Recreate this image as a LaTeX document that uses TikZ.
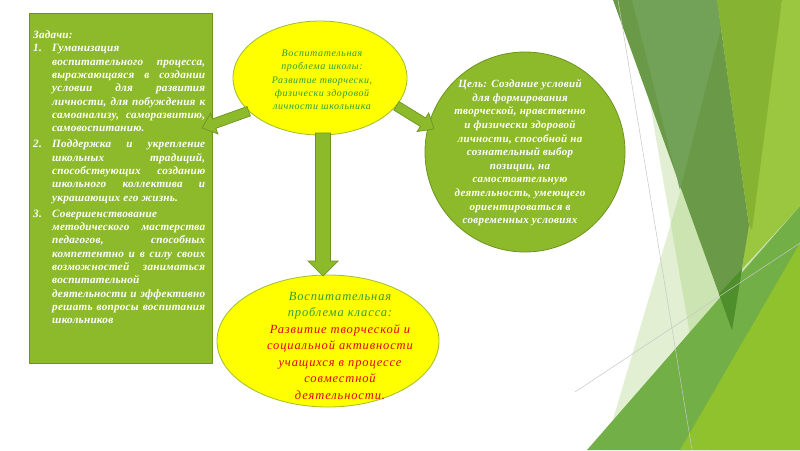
\documentclass[tikz,border=0pt]{standalone}
\usepackage{fontspec}
\setmainfont{Liberation Serif}
\newfontfamily\lsTask[LetterSpace=2]{Liberation Serif}
\newfontfamily\lsSchool[LetterSpace=6]{Liberation Serif}
\newfontfamily\lsGoal[LetterSpace=3]{Liberation Serif}
\newfontfamily\lsClass[LetterSpace=7]{Liberation Serif}
\usetikzlibrary{calc,shapes.geometric}
\definecolor{boxgreen}{HTML}{8DBA2B}
\definecolor{boxedge}{HTML}{6E9420}
\definecolor{yel}{HTML}{FFFF00}
\definecolor{yeledge}{HTML}{9CBF2E}
\definecolor{tgreen}{HTML}{2E9E3A}
\definecolor{tred}{HTML}{E2001A}
\definecolor{fpale}{HTML}{8CC152}
\definecolor{fmed}{HTML}{73AF47}
\definecolor{flight}{HTML}{9AC640}
\definecolor{fdark}{HTML}{6A9A48}
\definecolor{fdarkl}{HTML}{72A158}
\definecolor{fstrip}{HTML}{87B333}
\definecolor{fdeep}{HTML}{4E8E2B}
\definecolor{fbright}{HTML}{8FC22C}
\tikzset{
  panel/.style={fill=boxgreen, draw=boxedge, line width=0.8pt, inner sep=0pt},
  bubble/.style={ellipse, fill=yel, draw=yeledge, line width=0.8pt, inner sep=0pt},
  goalshape/.style={circle, fill=boxgreen, draw=boxedge, line width=0.8pt, inner sep=0pt},
  arrowstyle/.style={fill=boxgreen, draw=boxedge, line width=0.7pt, line join=miter},
  paletri/.style={fill=fpale, fill opacity=0.25, draw=none},
  guide/.style={draw=black!22, line width=0.5pt},
  ytext/.style={align=center, inner sep=0pt, font=\lsSchool\fontsize{10}{13.3}\selectfont\itshape, text=tgreen},
  gtext/.style={align=center, inner sep=0pt, font=\lsGoal\fontsize{11}{13.6}\selectfont\bfseries\itshape, text=white},
  ctext/.style={align=center, inner sep=0pt, font=\lsClass\fontsize{12.5}{16.5}\selectfont\itshape},
}
\newcommand\tjust[2]{\hbox to 172pt{\hbox to 19pt{#1\hfil}#2}}
\newcommand\tleft[2]{\hbox to 172pt{\hbox to 19pt{#1\hfil}#2\hfil}}
\newcommand\blockarrow[5]{%
  \coordinate (bah) at ($(#2)!#5!(#1)$);
  \filldraw[arrowstyle] ($(#1)!#3!90:(#2)$) -- ($(bah)!#3!-90:(#1)$) -- ($(bah)!#4!-90:(#1)$) -- (#2)
    -- ($(bah)!#4!90:(#1)$) -- ($(bah)!#3!90:(#1)$) -- ($(#1)!#3!-90:(#2)$) -- cycle;}
\begin{document}
\begin{tikzpicture}[x=1pt,y=-1pt]
\useasboundingbox (0,0) rectangle (800,450);
\fill[white] (0,0) rectangle (800,450);
% background facets
\fill[paletri] (604,450) -- (737,0) -- (800,0) -- (800,450) -- cycle;
\fill[paletri] (632,0) -- (800,0) -- (800,450) -- (710,450) -- cycle;
\fill[fmed] (587,450) -- (800,206) -- (800,450) -- cycle;
\fill[flight] (782,0) -- (800,0) -- (800,206) -- (742,269) -- cycle;
\fill[fdark] (613,0) -- (717,0) -- (749,225) -- (732,330) -- cycle;
\fill[fdarkl] (632,0) -- (717,0) -- (721,28) -- (680,190) -- cycle;
\fill[fstrip] (717,0) -- (782,0) -- (752,230) -- (749,225) -- cycle;
\fill[fdeep] (719,294) -- (742,269) -- (732,330) -- cycle;
\fill[fbright] (680,450) -- (800,243) -- (800,450) -- cycle;
\draw[guide] (618,0) -- (692,450);
\draw[guide] (575,392) -- (800,243);

% tasks panel
\node[panel, anchor=north west, minimum width=183pt, minimum height=350pt] (tasks) at (29,13) {};
\node[anchor=base west, inner sep=0pt, text=white] (taskstext) at (33,38.5) {\parbox[t]{172pt}{%
\lsTask\fontsize{11.2}{13.35}\selectfont\bfseries\itshape
\hbox{Задачи:}
\tleft{1.}{Гуманизация}
\tjust{}{воспитательного процесса,}
\tjust{}{выражающаяся в создании}
\tjust{}{условии для развития}
\tjust{}{личности, для побуждения к}
\tjust{}{самоанализу, саморазвитию,}
\tleft{}{самовоспитанию.}
\vskip2.5pt
\tjust{2.}{Поддержка и укрепление}
\tjust{}{школьных традиций,}
\tjust{}{способствующих созданию}
\tjust{}{школьного коллектива и}
\tleft{}{украшающих его жизнь.}
\vskip2.5pt
\tleft{3.}{Совершенствование}
\tjust{}{методического мастерства}
\tjust{}{педагогов, способных}
\tjust{}{компетентно и в силу своих}
\tjust{}{возможностей заниматься}
\tleft{}{воспитательной}
\tjust{}{деятельности и эффективно}
\tjust{}{решать вопросы воспитания}
\tleft{}{школьников}}};

% goal circle
\node[goalshape, minimum size=200pt] (goal) at (525,152) {};
\node[gtext] (goaltext) at (520,153) {Цель: Создание условий\\для формирования\\творческой, нравственно\\и физически здоровой\\личности, способной на\\сознательный выбор\\позиции, на\\самостоятельную\\деятельность, умеющего\\ориентироваться в\\современных условиях};

% school problem
\node[bubble, minimum width=174pt, minimum height=114pt] (school) at (320,78) {};
\node[ytext] (schooltext) at (322,80) {Воспитательная\\проблема школы:\\Развитие творчески,\\физически здоровой\\личности школьника};

% class problem
\node[bubble, minimum width=222pt, minimum height=132pt] (class) at (328,341) {};
\node[ctext] (classtext) at (340,345.5) {\textcolor{tgreen}{Воспитательная}\\\textcolor{tgreen}{проблема класса:}\\\textcolor{tred}{Развитие творческой и}\\\textcolor{tred}{социальной активности}\\\textcolor{tred}{учащихся в процессе}\\\textcolor{tred}{совместной}\\\textcolor{tred}{деятельности.}};

% arrows
\coordinate (lstart) at (school.205);
\coordinate (ltip) at (202,128);
\coordinate (rstart) at (school.340);
\coordinate (rtip) at (434,129);
\coordinate (dstart) at (323,133);
\coordinate (dtip) at (323,276);
\blockarrow{lstart}{ltip}{5pt}{11pt}{13pt}
\blockarrow{rstart}{rtip}{5pt}{11pt}{13pt}
\blockarrow{dstart}{dtip}{7.5pt}{15pt}{15pt}
\end{tikzpicture}
\end{document}
